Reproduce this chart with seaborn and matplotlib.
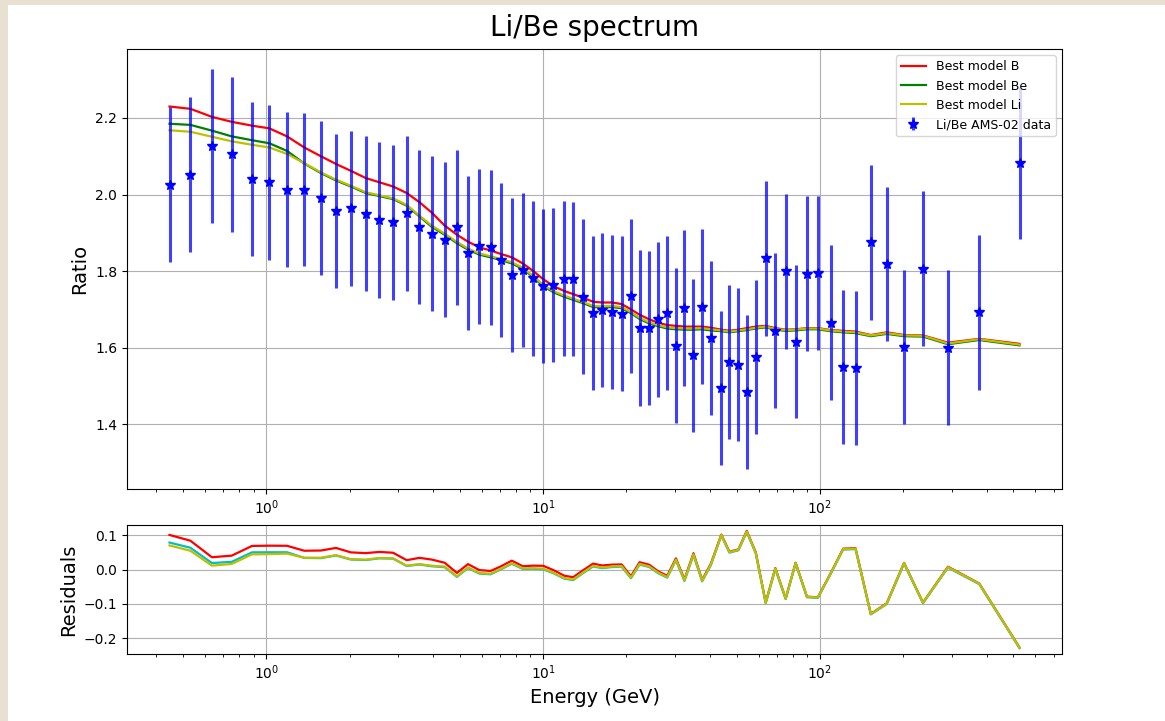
import numpy as np
import matplotlib
matplotlib.use("Agg")
import matplotlib.pyplot as plt
from matplotlib.patches import Rectangle
import seaborn as sns

# ---------------- data ----------------
energy = [0.447, 0.532, 0.636, 0.750, 0.888, 1.025, 1.188, 1.371, 1.575, 1.784,
          2.020, 2.288, 2.563, 2.870, 3.215, 3.573, 3.956, 4.408, 4.881, 5.349,
          5.880, 6.457, 7.015, 7.706, 8.445, 9.173, 10.00, 10.89, 11.91, 12.83,
          13.97, 15.15, 16.32, 17.73, 19.20, 20.76, 22.30, 24.16, 26.04, 28.06,
          30.17, 32.39, 34.91, 37.52, 40.33, 44.01, 47.08, 50.72, 54.38, 58.61,
          63.66, 68.97, 75.16, 81.66, 89.72, 98.26, 109.2, 121.2, 134.4, 152.6,
          174.2, 201.2, 235.5, 289.9, 376.1, 525.6]

ratio = [2.026, 2.052, 2.127, 2.105, 2.040, 2.032, 2.013, 2.013, 1.990, 1.957,
         1.964, 1.950, 1.933, 1.927, 1.951, 1.915, 1.898, 1.882, 1.914, 1.848,
         1.865, 1.862, 1.829, 1.790, 1.803, 1.781, 1.760, 1.764, 1.780, 1.780,
         1.733, 1.691, 1.698, 1.694, 1.689, 1.734, 1.651, 1.651, 1.674, 1.690,
         1.605, 1.704, 1.580, 1.707, 1.625, 1.495, 1.563, 1.556, 1.484, 1.576,
         1.833, 1.644, 1.799, 1.616, 1.793, 1.796, 1.665, 1.550, 1.546, 1.875,
         1.819, 1.602, 1.806, 1.600, 1.692, 2.083]

ratio_err = [0.202, 0.202, 0.201, 0.203, 0.201, 0.203, 0.202, 0.200, 0.201, 0.201,
             0.202, 0.202, 0.203, 0.203, 0.202, 0.202, 0.203, 0.203, 0.202, 0.201,
             0.202, 0.202, 0.201, 0.202, 0.201, 0.203, 0.201, 0.201, 0.202, 0.201,
             0.203, 0.201, 0.202, 0.201, 0.202, 0.201, 0.203, 0.202, 0.202, 0.201,
             0.202, 0.203, 0.200, 0.203, 0.202, 0.201, 0.202, 0.201, 0.201, 0.202,
             0.203, 0.202, 0.203, 0.201, 0.203, 0.201, 0.202, 0.201, 0.201, 0.202,
             0.202, 0.202, 0.202, 0.202, 0.203, 0.199]

model_B = [2.230, 2.224, 2.203, 2.190, 2.180, 2.173, 2.152, 2.123, 2.100, 2.080,
           2.062, 2.043, 2.032, 2.021, 2.004, 1.980, 1.953, 1.919, 1.895, 1.877,
           1.862, 1.854, 1.845, 1.836, 1.820, 1.801, 1.779, 1.761, 1.748, 1.740,
           1.730, 1.720, 1.718, 1.718, 1.714, 1.700, 1.686, 1.674, 1.665, 1.659,
           1.657, 1.655, 1.655, 1.655, 1.652, 1.647, 1.644, 1.647, 1.651, 1.655,
           1.657, 1.651, 1.647, 1.648, 1.651, 1.651, 1.646, 1.644, 1.642, 1.633,
           1.640, 1.633, 1.632, 1.613, 1.623, 1.610]

model_Be = [2.185, 2.182, 2.167, 2.152, 2.142, 2.134, 2.114, 2.081, 2.056, 2.037,
            2.021, 2.004, 1.996, 1.988, 1.971, 1.943, 1.916, 1.895, 1.873, 1.856,
            1.843, 1.836, 1.829, 1.820, 1.806, 1.785, 1.761, 1.745, 1.733, 1.725,
            1.716, 1.706, 1.705, 1.706, 1.703, 1.690, 1.675, 1.663, 1.656, 1.650,
            1.648, 1.647, 1.647, 1.648, 1.645, 1.643, 1.640, 1.643, 1.646, 1.650,
            1.653, 1.647, 1.644, 1.645, 1.648, 1.648, 1.643, 1.640, 1.638, 1.630,
            1.636, 1.630, 1.629, 1.609, 1.620, 1.606]

model_Li = [2.168, 2.164, 2.151, 2.139, 2.130, 2.123, 2.106, 2.082, 2.058, 2.039,
            2.023, 2.006, 1.998, 1.990, 1.973, 1.945, 1.919, 1.898, 1.876, 1.859,
            1.846, 1.839, 1.832, 1.823, 1.809, 1.788, 1.764, 1.748, 1.736, 1.728,
            1.719, 1.709, 1.708, 1.709, 1.706, 1.693, 1.678, 1.666, 1.659, 1.653,
            1.651, 1.650, 1.650, 1.651, 1.648, 1.645, 1.642, 1.645, 1.648, 1.652,
            1.655, 1.649, 1.646, 1.647, 1.650, 1.650, 1.645, 1.642, 1.640, 1.632,
            1.638, 1.632, 1.631, 1.611, 1.622, 1.608]

labels_models = ["Best model B", "Best model Be", "Best model Li"]
label_data = "Li/Be AMS-02 data"

# ---------------- figure ----------------
W, H = 1165, 721
fig = plt.figure(figsize=(W / 100, H / 100), dpi=100)
fig.patch.set_facecolor("#e8e0d0")
fig.add_artist(Rectangle((8 / W, 0), 1, (H - 5) / H, transform=fig.transFigure,
                         facecolor="white", edgecolor="none", zorder=-5))

left = 127 / W
width = (1062 - 127) / W
ax = fig.add_axes([left, (H - 489) / H, width, 440 / H])
axr = fig.add_axes([left, (H - 654) / H, width, 129 / H], sharex=ax)

E = np.array(energy)
R = np.array(ratio)

for m, c, lab in zip([model_B, model_Be, model_Li], ["r", "g", "y"], labels_models):
    sns.lineplot(x=E, y=np.array(m), color=c, lw=1.6, label=lab, ax=ax,
                 errorbar=None, sort=False)

ax.errorbar(E, R, yerr=np.array(ratio_err), fmt="*", color="b", ms=7,
            ecolor=(0.0, 0.0, 1.0, 0.75), elinewidth=2.2, label=label_data)

ax.set_xscale("log")
ax.grid(True)
ax.set_ylabel("Ratio", fontsize=14)
ax.set_title("Li/Be spectrum", fontsize=20, pad=9)
ax.legend(loc="upper right", fontsize=9)
ax.tick_params(labelbottom=True)

# residuals (model - data) / data
for m, c in zip([model_B, model_Be, model_Li], ["r", "c", "y"]):
    res = (np.array(m) - R) / R
    sns.lineplot(x=E, y=res, color=c, lw=1.6, ax=axr, errorbar=None, sort=False)

axr.grid(True)
axr.set_ylabel("Residuals", fontsize=14)
axr.set_xlabel("Energy (GeV)", fontsize=14)

fig.savefig("out.png", dpi=100, facecolor=fig.get_facecolor())
